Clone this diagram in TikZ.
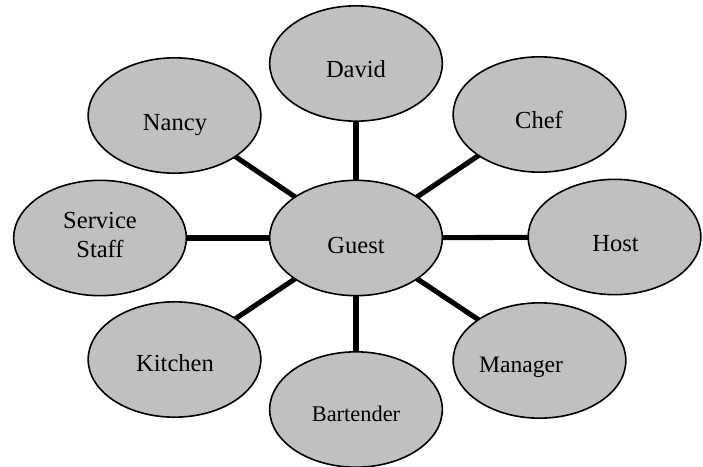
\documentclass[tikz,border=0pt]{standalone}
\usepackage{fontspec}
\setmainfont{Liberation Serif}
\usetikzlibrary{shapes.geometric,backgrounds}
\definecolor{bubblegray}{HTML}{C0C0C0}
\begin{document}
\begin{tikzpicture}[x=0.75pt,y=-0.75pt,
  bubble/.style={ellipse, draw=black, line width=1.2pt, fill=bubblegray,
    minimum width=129.5pt, minimum height=86.5pt, inner sep=0pt},
  lbl/.style={anchor=base, inner sep=0pt, font=\fontsize{18.4}{21.4}\selectfont},
  smalllbl/.style={lbl, font=\fontsize{16.8}{20}\selectfont},
  link/.style={line width=3.8pt}]
\useasboundingbox (0,0) rectangle (703,467);
% ellipses
\node[bubble] (guest)     at (356,238)   {};
\node[bubble] (nancy)     at (174.5,115.5) {};
\node[bubble] (david)     at (356,63.5)  {};
\node[bubble] (chef)      at (539.5,114.5) {};
\node[bubble] (host)      at (614.5,237) {};
\node[bubble] (manager)   at (539.5,360.5) {};
\node[bubble] (bartender) at (356,409.5) {};
\node[bubble] (kitchen)   at (174.5,359.5) {};
\node[bubble] (service)   at (100,238)   {};
% labels
\node[lbl] (tguest)   at (356,253)   {Guest};
\node[lbl] (tnancy)   at (175,130)   {Nancy};
\node[lbl] (tdavid)   at (356,78)    {David};
\node[lbl] (tchef)    at (539,128)   {Chef};
\node[lbl] (thost)    at (615.5,251) {Host};
\node[lbl] (tservice) at (100,228)   {Service};
\node[lbl] (tstaff)   at (100,257)   {Staff};
\node[lbl] (tkitchen) at (175,371)   {Kitchen};
\node[lbl, font=\fontsize{17.7}{21}\selectfont] (tmanager) at (521,372) {Manager};
\node[smalllbl] (tbartender) at (356,421.7) {Bartender};
% connectors
\begin{pgfonlayer}{background}
\draw[link] (guest.center) -- (nancy.center);
\draw[link] (guest.center) -- (david.center);
\draw[link] (guest.center) -- (chef.center);
\draw[link] (guest.center) -- (host.center);
\draw[link] (guest.center) -- (manager.center);
\draw[link] (guest.center) -- (bartender.center);
\draw[link] (guest.center) -- (kitchen.center);
\draw[link] (guest.center) -- (service.center);
\end{pgfonlayer}
\end{tikzpicture}
\end{document}
